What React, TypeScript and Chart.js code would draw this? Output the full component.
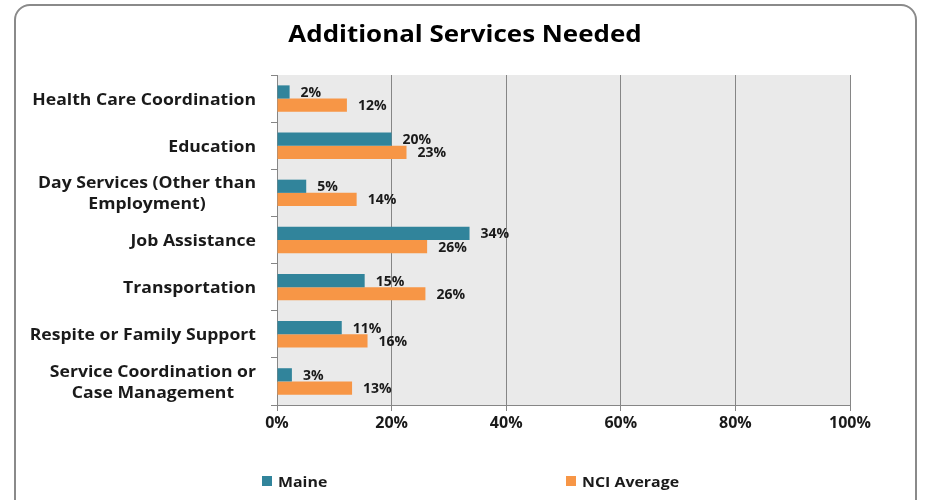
import React, { useEffect, useRef } from "react";
import { Chart, registerables } from "chart.js";

Chart.register(...registerables);

const TITLE = "Additional Services Needed";
const categories: string[][] = [
  ["Health Care Coordination"],
  ["Education"],
  ["Day Services (Other than", "Employment)"],
  ["Job Assistance"],
  ["Transportation"],
  ["Respite or Family Support"],
  ["Service Coordination or", "Case Management"],
];
const seriesNames = ["Maine", "NCI Average"];
const maine = [2.2, 20.0, 5.1, 33.6, 15.3, 11.3, 2.6];
const nciAverage = [12.2, 22.6, 13.9, 26.2, 25.9, 15.8, 13.1];
const xTicks = [0, 20, 40, 60, 80, 100];

const TEAL = "#31849B";
const ORANGE = "#F79646";
const FONT = "'Open Sans', sans-serif";
const TEXT = "#1a1a1a";

const bgPlugin = {
  id: "plotBg",
  beforeDraw(chart: any) {
    const { ctx, chartArea } = chart;
    ctx.save();
    ctx.fillStyle = "#EAEAEA";
    ctx.fillRect(chartArea.left, chartArea.top, chartArea.right - chartArea.left, chartArea.bottom - chartArea.top);
    ctx.restore();
  },
};

const yLabelPlugin = {
  id: "yLabels",
  afterDraw(chart: any) {
    const { ctx } = chart;
    const yScale = chart.scales.y;
    const sx = 1.1;
    ctx.save();
    ctx.font = `bold 16px ${FONT}`;
    ctx.fillStyle = TEXT;
    ctx.textAlign = "center";
    ctx.textBaseline = "middle";
    const rightEdge = 256;
    const lh = 21;
    categories.forEach((lines, i) => {
      const cy = yScale.getPixelForValue(i) + 1.5;
      const w = Math.max(...lines.map((l) => ctx.measureText(l).width)) * sx;
      const cx = rightEdge - w / 2;
      const y0 = cy - ((lines.length - 1) * lh) / 2;
      lines.forEach((l, j) => {
        ctx.save();
        ctx.translate(cx, y0 + j * lh);
        ctx.scale(sx, 1);
        ctx.fillText(l, 0, 0);
        ctx.restore();
      });
    });
    ctx.restore();
  },
};

const valueLabelPlugin = {
  id: "valueLabels",
  afterDatasetsDraw(chart: any) {
    const { ctx } = chart;
    ctx.save();
    ctx.font = `bold 14px ${FONT}`;
    ctx.fillStyle = TEXT;
    ctx.textAlign = "left";
    ctx.textBaseline = "middle";
    chart.data.datasets.forEach((ds: any, di: number) => {
      const meta = chart.getDatasetMeta(di);
      meta.data.forEach((el: any, i: number) => {
        const v = ds.data[i];
        ctx.fillText(Math.round(v) + "%", el.x + 11, el.y + 1);
      });
    });
    ctx.restore();
  },
};

export default function App() {
  const ref = useRef<HTMLCanvasElement>(null);
  useEffect(() => {
    const chart = new Chart(ref.current!, {
      type: "bar",
      data: {
        labels: categories.map((c) => c.join(" ")),
        datasets: [
          { label: seriesNames[0], data: maine, backgroundColor: TEAL, barPercentage: 1, categoryPercentage: 0.56 },
          { label: seriesNames[1], data: nciAverage, backgroundColor: ORANGE, barPercentage: 1, categoryPercentage: 0.56 },
        ],
      },
      plugins: [bgPlugin, yLabelPlugin, valueLabelPlugin],
      options: {
        indexAxis: "y",
        animation: false,
        responsive: false,
        maintainAspectRatio: false,
        layout: { padding: { top: 75, right: 76, bottom: 0, left: 0 } },
        plugins: { legend: { display: false }, title: { display: false }, tooltip: { enabled: false } },
        scales: {
          x: {
            min: 0,
            max: 100,
            afterFit: (s: any) => { s.height = 95; },
            afterBuildTicks: (s: any) => { s.ticks = xTicks.map((v) => ({ value: v })); },
            ticks: {
              callback: (v: any) => v + "%",
              font: { family: FONT, size: 16, weight: "bold" },
              color: TEXT,
              padding: 3,
            },
            grid: { color: "#868686", tickColor: "#868686", tickLength: 6, lineWidth: 1 },
            border: { color: "#868686", width: 1 },
          },
          y: {
            afterFit: (s: any) => { s.width = 277; },
            ticks: { display: false },
            grid: { drawOnChartArea: false, color: "#868686", tickColor: "#868686", tickLength: 6, offset: true },
            border: { color: "#868686", width: 1 },
          },
        },
      },
    });
    return () => chart.destroy();
  }, []);

  return (
    <div style={{ position: "fixed", left: 0, top: 0, width: 926, height: 500, overflow: "hidden", background: "#fff", fontFamily: FONT }}>
      <canvas ref={ref} width={926} height={500} style={{ position: "absolute", left: 0, top: 0 }} />
      <div
        style={{
          position: "absolute", left: 14, top: 4, width: 903, height: 520,
          border: "2px solid #8a8a8a", borderRadius: 16, boxSizing: "border-box", pointerEvents: "none",
        }}
      />
      <div style={{ position: "absolute", left: 0, width: 930, top: 17, textAlign: "center", fontSize: 23, fontWeight: 700, color: "#000", lineHeight: "32px", transform: "scaleX(1.127)", transformOrigin: "465px 0" }}>
        {TITLE}
      </div>
      {seriesNames.map((n, i) => (
        <div key={n} style={{ position: "absolute", left: i === 0 ? 262 : 566, top: 471, display: "flex", alignItems: "center", fontSize: 15, fontWeight: 700, color: TEXT, lineHeight: "20px" }}>
          <span style={{ display: "inline-block", width: 10, height: 10, background: i === 0 ? TEAL : ORANGE, marginRight: 6 }} />
          <span style={{ display: "inline-block", transform: "scaleX(1.06)", transformOrigin: "0 0" }}>{n}</span>
        </div>
      ))}
    </div>
  );
}
